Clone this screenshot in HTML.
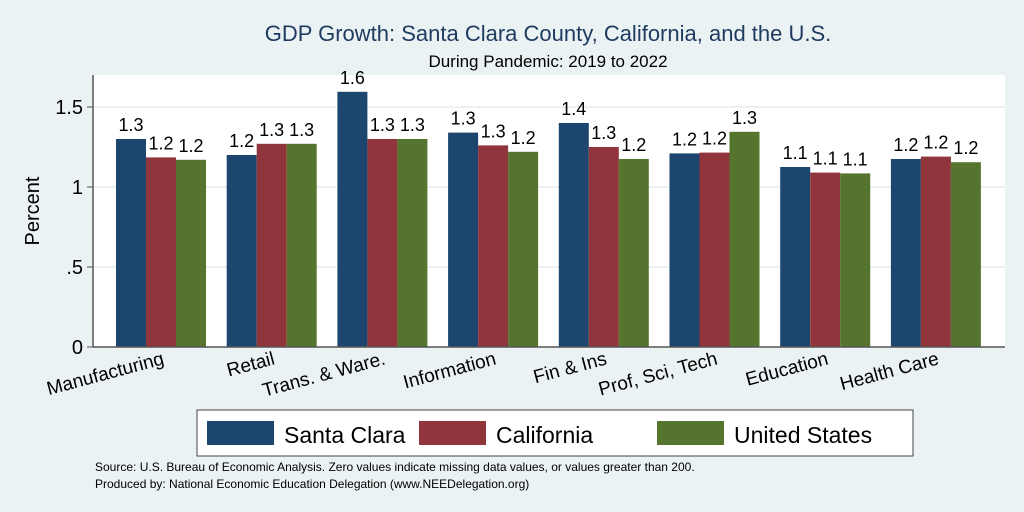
<!DOCTYPE html>
<html><head><meta charset="utf-8"><style>
html,body{margin:0;padding:0;background:#eaf2f3;}
svg{display:block;font-family:"Liberation Sans",Arial,sans-serif;}
</style></head><body>
<svg id="chart" width="1024" height="512" viewBox="0 0 1024 512">
<rect x="0" y="0" width="1024" height="512" fill="#eaf2f3"/>
<text x="548" y="41" text-anchor="middle" font-size="22" fill="#1e3a5f">GDP Growth: Santa Clara County, California, and the U.S.</text>
<text x="548" y="67" text-anchor="middle" font-size="17" fill="#000">During Pandemic: 2019 to 2022</text>
<rect x="93" y="75" width="912" height="272" fill="#fff"/>
<g id="grid"></g>
<g id="bars"></g>
<g id="yaxis"></g>
<g id="xlabels"></g>
<text transform="translate(39,211) rotate(-90)" text-anchor="middle" font-size="20">Percent</text>
<g>
<rect x="197" y="410" width="716" height="46" fill="#fff" stroke="#444" stroke-width="1"/>
<g id="legend"></g>
</g>
<text x="95" y="471" font-size="12">Source: U.S. Bureau of Economic Analysis. Zero values indicate missing data values, or values greater than 200.</text>
<text x="95" y="488" font-size="12">Produced by: National Economic Education Delegation (www.NEEDelegation.org)</text>
</svg>
<script>
const categories = ["Manufacturing","Retail","Trans. & Ware.","Information","Fin & Ins","Prof, Sci, Tech","Education","Health Care"];
const seriesNames = ["Santa Clara","California","United States"];
const santaClara = [1.30,1.20,1.595,1.34,1.40,1.21,1.125,1.175];
const california = [1.185,1.27,1.30,1.26,1.25,1.215,1.09,1.19];
const unitedStates = [1.17,1.27,1.30,1.22,1.175,1.345,1.085,1.155];
const yTicks = [0,0.5,1,1.5];
const yTickLabels = ["0",".5","1","1.5"];

const NS="http://www.w3.org/2000/svg";
const colors=["#1c466e","#90353b","#55752f"];
const series=[santaClara,california,unitedStates];
const plotL=93, plotR=1005, y0=347, pxPerUnit=160;
const y=v=>y0-v*pxPerUnit;
const barW=30;
const gx=i=>plotL+23+i*110.7;
function el(t,a,p){const e=document.createElementNS(NS,t);for(const k in a)e.setAttribute(k,a[k]);p.appendChild(e);return e;}
const grid=document.getElementById('grid'),bars=document.getElementById('bars'),ya=document.getElementById('yaxis'),xl=document.getElementById('xlabels'),lg=document.getElementById('legend');
yTicks.forEach((t,i)=>{
  if(t>0){const g=el('line',{x1:plotL,x2:plotR,y1:y(t),y2:y(t),stroke:'#e6eef0','stroke-width':1.5},grid);
  
  }
  const tk=el('line',{x1:plotL-6,x2:plotL,y1:y(t),y2:y(t),stroke:'#555'},ya);
  
  
  const tl=el('text',{x:plotL-10,y:y(t)+7,'text-anchor':'end','font-size':20},ya);
  tl.textContent=yTickLabels[i];
  
  
});
el('line',{x1:plotL,x2:plotL,y1:75,y2:y0,stroke:'#555','stroke-width':1.5},ya);
el('line',{x1:plotL,x2:plotR,y1:y0,y2:y0,stroke:'#555','stroke-width':1.5},ya);
categories.forEach((c,i)=>{
  series.forEach((s,j)=>{
    const x=gx(i)+j*barW;
    const r=el('rect',{x:x,y:y(s[i]),width:barW,height:y0-y(s[i]),fill:colors[j]},bars);
    
    
    const t=el('text',{x:x+barW/2,y:y(s[i])-8,'text-anchor':'middle','font-size':18},bars);
    t.textContent=s[i].toFixed(1);
    
    
  });
  const cx=gx(i)+45;
  const lab=el('text',{transform:`translate(${cx+4},${364}) rotate(-15)`,'text-anchor':'end','font-size':19},xl);
  lab.textContent=c;
  
  
});
const lx=[207,419,657];
seriesNames.forEach((n,j)=>{
  const r=el('rect',{x:lx[j],y:421,width:67,height:24,fill:colors[j]},lg);
  
  
  const t=el('text',{x:lx[j]+77,y:443,'font-size':23},lg);
  t.textContent=n;
  
  
});
</script>
</body></html>
